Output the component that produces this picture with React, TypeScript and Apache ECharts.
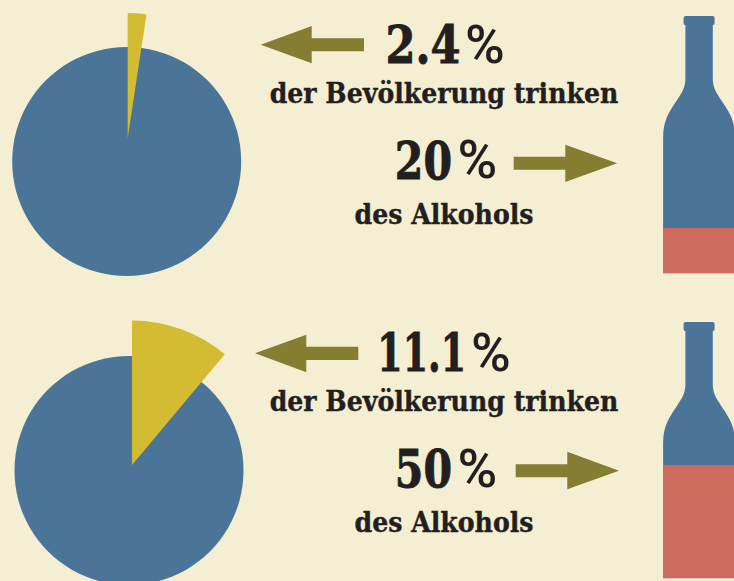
import React, { useEffect, useRef } from "react";
import * as echarts from "echarts";

const populationShares = [2.4, 11.1];
const alcoholShares = [20, 50];
const bigLabelsTop = ["2.4", "20"];
const bigLabelsBottom = ["11.1", "50"];
const populationCaption = "der Bevölkerung trinken";
const alcoholCaption = "des Alkohols";
const bottleFull = 113.3;

const BG = "#F4EED2";
const BLUE = "#4A7598";
const YELLOW = "#D4BC32";
const RED = "#CF6B5E";
const OLIVE = "#857E32";
const INK = "#231F20";
const FONT = "'DejaVu Serif', serif";

const BOTTLE =
  "path://M20.5 2 Q20.5 0 22.5 0 L49.5 0 Q51.5 0 51.5 2 L51.5 7 Q51.5 9 50 9 L49.7 9 L49.7 62 C49.7 72 53 76 58 84 C66 96 72 104 72 122 L72 257 L0 257 L0 122 C0 104 6 96 14 84 C19 76 22.3 72 22.3 62 L22.3 9 L22 9 Q20.5 9 20.5 7 Z";

function pieSeries(share: number, blueCenter: number[], yellowCenter: number[], yellowRadius: number) {
  return [
    {
      type: "pie",
      center: blueCenter,
      radius: [0, 114.5],
      startAngle: 90,
      silent: true,
      label: { show: false },
      labelLine: { show: false },
      itemStyle: { color: BLUE },
      data: [{ name: "Bevölkerung", value: 100 }],
    },
    {
      type: "pie",
      center: yellowCenter,
      radius: [0, yellowRadius],
      startAngle: 90,
      clockwise: true,
      silent: true,
      label: { show: false },
      labelLine: { show: false },
      data: [
        { name: "Trinker", value: share, itemStyle: { color: YELLOW } },
        { name: "Rest", value: 100 - share, itemStyle: { color: "rgba(0,0,0,0)" } },
      ],
    },
  ];
}

function bottleSeries(share: number, idx: number) {
  const common = {
    type: "pictorialBar",
    xAxisIndex: idx,
    yAxisIndex: idx,
    silent: true,
    symbol: BOTTLE,
    symbolSize: [72, "100%"],
    symbolPosition: "start",
    symbolBoundingData: bottleFull,
    animation: false,
  };
  return [
    { ...common, z: 2, data: [bottleFull], itemStyle: { color: BLUE } },
    { ...common, z: 3, symbolClip: true, data: [share], itemStyle: { color: RED } },
  ];
}

function arrow(points: number[][]) {
  return { type: "polygon", shape: { points }, style: { fill: OLIVE } };
}

function bigText(value: string, xRight: number, scaleX: number, xPct: number, y: number) {
  return [
    {
      type: "text",
      x: xRight,
      y,
      scaleX,
      style: {
        text: value,
        align: "right",
        verticalAlign: "middle",
        fontFamily: FONT,
        fontWeight: "bold",
        fontSize: 52,
        fill: INK,
        stroke: INK,
        lineWidth: 0.9,
      },
    },
    {
      type: "text",
      x: xPct,
      y: y - 1,
      style: {
        text: "%",
        align: "left",
        verticalAlign: "middle",
        fontFamily: "Roboto, sans-serif",
        fontWeight: 500,
        fontSize: 54,
        fill: INK,
      },
    },
  ];
}

function caption(text: string, x: number, y: number) {
  return {
    type: "text",
    x,
    y,
    scaleX: 0.885,
    style: {
      text,
      align: "center",
      verticalAlign: "middle",
      fontFamily: FONT,
      fontWeight: "bold",
      fontSize: 28.5,
      fill: INK,
      stroke: INK,
      lineWidth: 0.4,
    },
  };
}

export default function App() {
  const ref = useRef<HTMLDivElement>(null);
  useEffect(() => {
    const chart = echarts.init(ref.current!, undefined, { renderer: "svg" });
    const axisOff = { show: false };
    chart.setOption({
      animation: false,
      backgroundColor: BG,
      grid: [
        { left: 664.2, top: 16, width: 72, height: 257.3 },
        { left: 664.2, top: 322, width: 72, height: 256.3 },
      ],
      xAxis: [0, 1].map((i) => ({ ...axisOff, type: "category", gridIndex: i, data: ["Alkohol"] })),
      yAxis: [0, 1].map((i) => ({ ...axisOff, type: "value", gridIndex: i, min: 0, max: bottleFull })),
      series: [
        ...pieSeries(populationShares[0], [126.7, 161.5], [127.7, 138], 125),
        ...pieSeries(populationShares[1], [129, 470.5], [132, 465], 144.5),
        ...bottleSeries(alcoholShares[0], 0),
        ...bottleSeries(alcoholShares[1], 1),
      ],
      graphic: [
        arrow([[260.7, 44.7], [311.7, 26], [311.7, 38.3], [364, 38.3], [364, 51.3], [311.7, 51.3], [311.7, 63.3]]),
        arrow([[617.2, 163.3], [565.3, 144.7], [565.3, 156.7], [513.7, 156.7], [513.7, 169.7], [565.3, 169.7], [565.3, 182]]),
        arrow([[255, 353.3], [306.3, 334.7], [306.3, 346.7], [358.3, 346.7], [358.3, 360], [306.3, 360], [306.3, 372.3]]),
        arrow([[619, 470.7], [567.3, 451.7], [567.3, 464.3], [515.7, 464.3], [515.7, 477.3], [567.3, 477.3], [567.3, 489.3]]),
        ...bigText(bigLabelsTop[0], 460.5, 0.83, 465, 45),
        caption(populationCaption, 444, 93),
        ...bigText(bigLabelsTop[1], 452, 0.79, 457.5, 160.5),
        caption(alcoholCaption, 444, 214),
        ...bigText(bigLabelsBottom[0], 466, 0.7, 471, 353),
        caption(populationCaption, 444, 401),
        ...bigText(bigLabelsBottom[1], 452, 0.79, 457.5, 469),
        caption(alcoholCaption, 444, 522),
      ],
    });
    return () => chart.dispose();
  }, []);
  return <div ref={ref} style={{ position: "absolute", left: 0, top: 0, width: 734, height: 581 }} />;
}
